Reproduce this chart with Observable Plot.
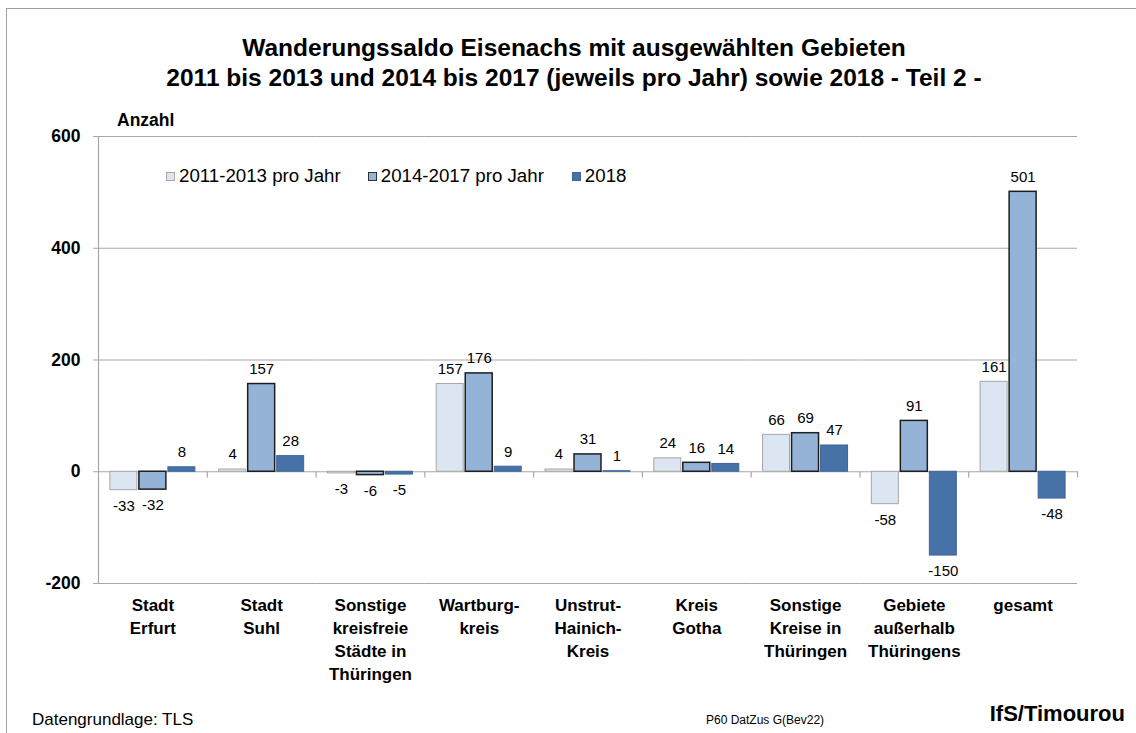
<!DOCTYPE html>
<html>
<head>
<meta charset="utf-8">
<script src="https://cdn.jsdelivr.net/npm/d3@7"></script>
<script src="https://cdn.jsdelivr.net/npm/@observablehq/plot@0.6"></script>
<style>
  body { margin: 0; background: #fff; }
  #wrap { position: relative; width: 1136px; height: 733px; font-family: "Liberation Sans", Arial, sans-serif; color: #000; overflow: hidden; }
  #wrap svg { position: absolute; left: 0; top: 0; }
  .abs { position: absolute; white-space: nowrap; line-height: 1; }
  #border { position: absolute; left: 6px; top: 8px; width: 1140px; height: 740px; border-left: 1px solid #a0a0a0; border-top: 1px solid #a0a0a0; }
  #title { left: 0; width: 1148px; top: 33px; text-align: center; font-weight: bold; font-size: 24.5px; line-height: 30px; }
  #anzahl { left: 117px; top: 112px; font-weight: bold; font-size: 17.5px; }
  #legend { left: 166px; top: 167px; font-size: 18.7px; display: flex; align-items: center; }
  .item { display: flex; align-items: center; }
  .sw { width: 9px; height: 9px; margin-right: 4px; box-sizing: border-box; }
  #src { left: 32px; top: 710.5px; font-size: 17px; }
  #code { left: 706px; top: 714px; font-size: 12px; }
  #ifs { right: 11px; top: 703px; font-size: 22px; font-weight: bold; }
</style>
</head>
<body>
<div id="wrap">
  <div id="border"></div>
  <div id="chart"></div>
  <div class="abs" id="title">Wanderungssaldo Eisenachs mit ausgewählten Gebieten<br>2011 bis 2013 und 2014 bis 2017 (jeweils pro Jahr) sowie 2018 - Teil 2 -</div>
  <div class="abs" id="anzahl">Anzahl</div>
  <div class="abs" id="legend"></div>
  <div class="abs" id="src">Datengrundlage: TLS</div>
  <div class="abs" id="code">P60 DatZus G(Bev22)</div>
  <div class="abs" id="ifs">IfS/Timourou</div>
</div>
<script>
const categories = [
  "Stadt\nErfurt",
  "Stadt\nSuhl",
  "Sonstige\nkreisfreie\nStädte in\nThüringen",
  "Wartburg-\nkreis",
  "Unstrut-\nHainich-\nKreis",
  "Kreis\nGotha",
  "Sonstige\nKreise in\nThüringen",
  "Gebiete\naußerhalb\nThüringens",
  "gesamt"
];
const series = ["2011-2013 pro Jahr", "2014-2017 pro Jahr", "2018"];
const values2011_2013 = [-33, 4, -3, 157, 4, 24, 66, -58, 161];
const values2014_2017 = [-32, 157, -6, 176, 31, 16, 69, 91, 501];
const values2018 = [8, 28, -5, 9, 1, 14, 47, -150, -48];
const yTicks = [-200, 0, 200, 400, 600];

const fills = ["#dce6f2", "#95b3d7", "#4672a8"];
const strokes = ["#a6a6a6", "#1e1e1e", "#3e6699"];
const strokeWidths = [1, 1.5, 1];
const grid = "#a8a8a8";

const seriesValues = [values2011_2013, values2014_2017, values2018];
const rows = categories.flatMap((c, i) => series.map((s, j) => ({cat: c, series: s, value: seriesValues[j][i]})));

const barMarks = series.map((s, j) =>
  Plot.barY(rows.filter(d => d.series === s), {
    fx: "cat", x: "series", y: "value",
    fill: fills[j], stroke: strokes[j], strokeWidth: strokeWidths[j]
  })
);

const chart = Plot.plot({
  width: 1136,
  height: 733,
  marginTop: 136,
  marginBottom: 150,
  marginLeft: 98,
  marginRight: 59,
  style: {fontFamily: "'Liberation Sans', Arial, sans-serif", background: "transparent", overflow: "visible"},
  fx: {domain: categories, padding: 0, round: false, label: null},
  x: {domain: series, paddingInner: 0.07, paddingOuter: 0.41, round: false, axis: null},
  y: {domain: [-200, 600], label: null},
  marks: [
    Plot.ruleY(yTicks, {stroke: grid, strokeWidth: 1.2}),
    Plot.frame({anchor: "left", facetAnchor: "left", stroke: grid, strokeWidth: 1.2}),
    Plot.ruleX(categories, {fx: d => d, x: () => series[2], dx: 25.4, y1: 0, y2: -11, stroke: grid, strokeWidth: 1.2}),
    ...barMarks,
    Plot.text(rows.filter(d => d.value >= 0), {fx: "cat", x: "series", y: "value", text: d => String(d.value), dy: -15, fontSize: 15, fill: "#000"}),
    Plot.text(rows.filter(d => d.value < 0), {fx: "cat", x: "series", y: "value", text: d => String(d.value), dy: 16, fontSize: 15, fill: "#000"}),
    Plot.axisY({ticks: yTicks, tickSize: 5, tickPadding: 13, tickFormat: d => String(d), stroke: grid, fontSize: 17.5, fontWeight: "bold", label: null}),
    Plot.axisFx({anchor: "bottom", tickSize: 0, tickPadding: 11, lineAnchor: "top", lineHeight: 1.35, fontSize: 17, fontWeight: "bold", label: null})
  ]
});
document.getElementById("chart").appendChild(chart);

const legend = document.getElementById("legend");
const gaps = [0, 27, 28];
series.forEach((s, j) => {
  const item = document.createElement("div");
  item.className = "item";
  item.style.marginLeft = gaps[j] + "px";
  const sw = document.createElement("div");
  sw.className = "sw";
  sw.style.background = fills[j];
  sw.style.border = "1px solid " + (j === 0 ? "#a6a6a6" : j === 1 ? "#333" : strokes[j]);
  const t = document.createElement("span");
  t.textContent = s;
  item.appendChild(sw);
  item.appendChild(t);
  legend.appendChild(item);
});
</script>
</body>
</html>
